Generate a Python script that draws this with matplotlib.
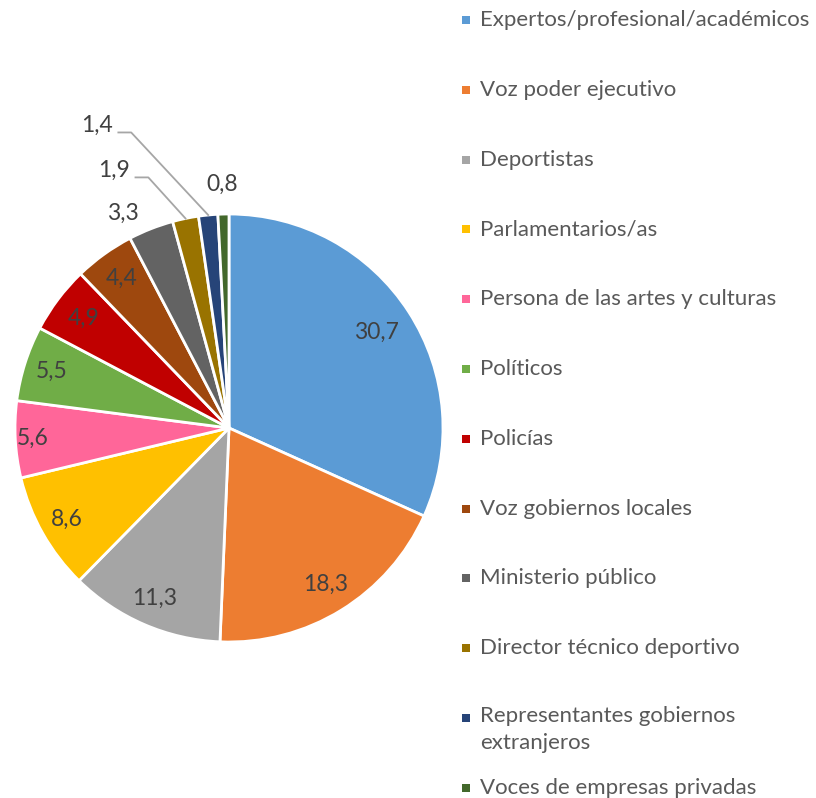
import numpy as np
import matplotlib
matplotlib.use("Agg")
import matplotlib.pyplot as plt
from matplotlib.patches import Rectangle

categories = [
    "Expertos/profesional/académicos",
    "Voz poder ejecutivo",
    "Deportistas",
    "Parlamentarios/as",
    "Persona de las artes y culturas",
    "Políticos",
    "Policías",
    "Voz gobiernos locales",
    "Ministerio público",
    "Director técnico deportivo",
    "Representantes gobiernos\nextranjeros",
    "Voces de empresas privadas",
]
values = [30.7, 18.3, 11.3, 8.6, 5.6, 5.5, 4.9, 4.4, 3.3, 1.9, 1.4, 0.8]
labels = ["30,7", "18,3", "11,3", "8,6", "5,6", "5,5", "4,9", "4,4", "3,3", "1,9", "1,4", "0,8"]

colors = ["#5B9BD5", "#ED7D31", "#A5A5A5", "#FFC000", "#FF6699", "#70AD47",
          "#C00000", "#9E480E", "#636363", "#997300", "#264478", "#43682B"]

FONT = "Lato"
W, H = 816, 798
fig = plt.figure(figsize=(W / 100, H / 100), dpi=100)

# pie: centre (229, 428) px, radius 214 px
cx, cy, r = 229, 428, 214
ax = fig.add_axes([(cx - r) / W, (H - cy - r) / H, 2 * r / W, 2 * r / H])
wedges, _ = ax.pie(values, colors=colors, startangle=90, counterclock=False,
                   wedgeprops=dict(edgecolor="white", linewidth=2))
ax.set_xlim(-1, 1)
ax.set_ylim(-1, 1)
ax.axis("off")

# label radius per slice (inside for large ones, outside for the small)
label_r = [0.82, 0.86, 0.87, 0.87, 0.92, 0.87, 0.85, 0.86, 1.12, None, None, 1.14]
angle_nudge = [0, 0, 0, 0, 0, 0, 0, 0, 5, 0, 0, 0]
# leader-line labels (data coords)
leader_pos = {9: (-0.537, 1.206), 10: (-0.617, 1.416)}

for i, w in enumerate(wedges):
    mid = np.deg2rad((w.theta1 + w.theta2) / 2)
    if i in leader_pos:
        lx, ly = leader_pos[i]
        ax.text(lx, ly, labels[i], ha="center", va="center", fontsize=16.5,
                color="#404040", family=FONT, clip_on=False)
        x0 = lx + 0.1
        y0 = ly - 0.035
        ex, ey = np.cos(mid) * 1.0, np.sin(mid) * 1.0
        ax.plot([x0, x0 + 0.06, ex], [y0, y0, ey], color="#A6A6A6",
                lw=1.3, clip_on=False)
        continue
    a = mid + np.deg2rad(angle_nudge[i])
    rr = label_r[i]
    ax.text(rr * np.cos(a), rr * np.sin(a), labels[i], ha="center", va="center",
            fontsize=16.5, color="#404040", family=FONT, clip_on=False)

# legend
leg_x = 480
leg_y0 = 20
leg_step = 69.8
for i, (cat, col) in enumerate(zip(categories, colors)):
    y = leg_y0 + i * leg_step
    if "\n" in cat:
        fig.text(leg_x / W, 1 - (y - 12) / H, cat, ha="left", va="top",
                 fontsize=16, color="#595959", family=FONT, linespacing=1.45)
    else:
        fig.text(leg_x / W, 1 - y / H, cat, ha="left", va="center",
                 fontsize=16, color="#595959", family=FONT)
    fig.patches.append(Rectangle((462 / W, 1 - (y + 4) / H), 8 / W, 8 / H,
                                 transform=fig.transFigure, facecolor=col,
                                 edgecolor="none"))

fig.savefig("out.png", dpi=100)
